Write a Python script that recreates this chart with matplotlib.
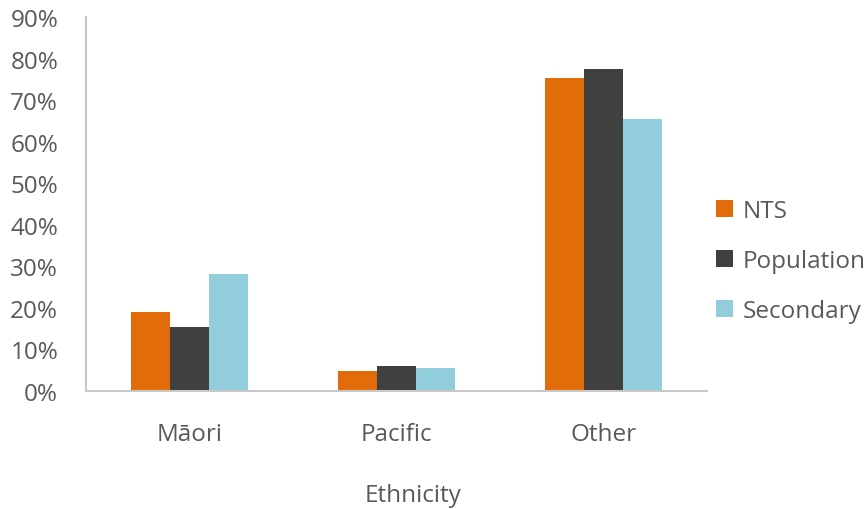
import numpy as np
import matplotlib.pyplot as plt
from matplotlib.patches import Patch

# Share of each group by ethnicity (%)
categories = ['Māori', 'Pacific', 'Other']
series = ['NTS', 'Population', 'Secondary']
nts = [19.0, 4.7, 75.4]
population = [15.4, 6.0, 77.6]
secondary = [28.1, 5.5, 65.5]
yticks = [0, 10, 20, 30, 40, 50, 60, 70, 80, 90]

colors = ['#E36C0A', '#404040', '#92CDDC']
text_col = '#595959'
axis_col = '#C8C8C8'
fs = 17.5

plt.rcParams['font.family'] = ['Open Sans', 'DejaVu Sans']

fig = plt.figure(figsize=(8.68, 5.10), dpi=100)
ax = fig.add_axes([86/868, 1 - 392/510, 621/868, 374/510])

x = np.arange(len(categories))
w = 0.19
for i, (vals, c) in enumerate(zip([nts, population, secondary], colors)):
    ax.bar(x + (i - 1)*w, vals, width=w, color=c, edgecolor='none')

ax.set_xlim(-0.5, len(categories) - 0.5)
ax.set_ylim(0, 90)
ax.set_yticks(yticks)
ax.set_yticklabels([f'{v}%' for v in yticks])
ax.set_xticks(x)
ax.set_xticklabels(categories)
ax.tick_params(axis='both', length=0, labelsize=fs, colors=text_col)
ax.tick_params(axis='y', pad=20)
ax.tick_params(axis='x', pad=22)

for s in ['top', 'right']:
    ax.spines[s].set_visible(False)
for s in ['left', 'bottom']:
    ax.spines[s].set_color(axis_col)
    ax.spines[s].set_linewidth(1.5)

ax.set_xlabel('Ethnicity', fontsize=fs, color=text_col, labelpad=27)
ax.xaxis.label.set_x(0.526)  # title sits a little right of the plot centre

handles = [Patch(facecolor=c, edgecolor='none') for c in colors]
leg = fig.legend(handles, series, loc='center left', bbox_to_anchor=(716/868, 1 - 262/510),
                 frameon=False, fontsize=fs, handlelength=0.7, handleheight=0.7,
                 handletextpad=0.4, labelspacing=1.05, borderaxespad=0, borderpad=0)
for t in leg.get_texts():
    t.set_color(text_col)

fig.savefig('out.png', dpi=100)
